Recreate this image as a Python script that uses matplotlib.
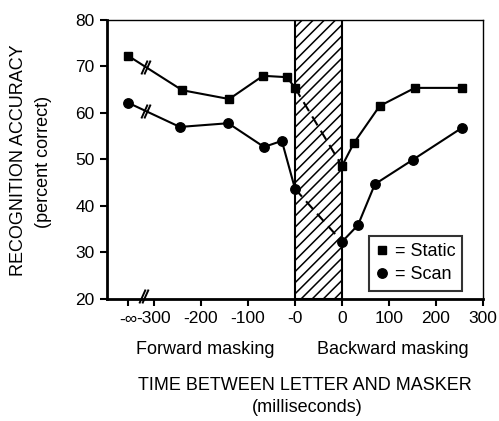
import matplotlib
matplotlib.use("Agg")
import matplotlib.pyplot as plt
from matplotlib.patches import Rectangle
from matplotlib.lines import Line2D

plt.rcParams['font.family'] = ['Liberation Sans', 'DejaVu Sans']
plt.rcParams['hatch.linewidth'] = 1.1

# Axis position standing in for "-infinity" on the forward-masking side
INF_POS = -355
# Backward-masking times are shifted right by the width of the letter interval
GAP = 100

# Forward masking (ms before letter onset), "-0" is the last point
static_fwd_t = [INF_POS, -240, -140, -68, -17, 0]
static_fwd_v = [72.3, 64.9, 63.0, 68.0, 67.7, 65.4]
scan_fwd_t = [INF_POS, -245, -142, -66, -28, 0]
scan_fwd_v = [62.2, 57.0, 57.8, 52.7, 54.0, 43.7]

# Backward masking (ms after letter offset)
static_bwd_t = [0, 25, 80, 155, 255]
static_bwd_v = [48.6, 53.5, 61.5, 65.4, 65.4]
scan_bwd_t = [0, 34, 70, 150, 255]
scan_bwd_v = [32.3, 35.9, 44.7, 49.9, 56.8]

xtick_pos = [INF_POS, -300, -200, -100, 0, 0 + GAP, 100 + GAP, 200 + GAP, 300 + GAP]
xtick_labels = ['-\u221e', '-300', '-200', '-100', '-0', '0', '100', '200', '300']
yticks = [20, 30, 40, 50, 60, 70, 80]

fig = plt.figure(figsize=(4.99, 4.21), dpi=100)
ax = fig.add_axes([0.2144, 0.2898, 0.968 - 0.2144, 0.9525 - 0.2898])
ax.set_xlim(-400, 400)
ax.set_ylim(20, 80)

# letter presentation interval
ax.add_patch(Rectangle((0, 20), GAP, 60, facecolor='white', edgecolor='black',
                       hatch='///', linewidth=1.5, zorder=1))

lw = 1.5
def draw(fwd_t, fwd_v, bwd_t, bwd_v, marker, ms):
    bx = [t + GAP for t in bwd_t]
    ax.plot(fwd_t, fwd_v, color='black', lw=lw, marker=marker, ms=ms, zorder=3)
    ax.plot(bx, bwd_v, color='black', lw=lw, marker=marker, ms=ms, zorder=3)
    ax.plot([fwd_t[-1], bx[0]], [fwd_v[-1], bwd_v[0]], color='black', lw=lw,
            dashes=(5, 3), zorder=2)

draw(static_fwd_t, static_fwd_v, static_bwd_t, static_bwd_v, 's', 6)
draw(scan_fwd_t, scan_fwd_v, scan_bwd_t, scan_bwd_v, 'o', 6.8)

# axis-break marks ("//") on each curve and on the time axis
slash = [(-0.45, -1.0), (0.45, 1.0)]
def break_mark(x, y):
    for dx in (-3.5, 3.5):
        ax.plot([x + dx], [y], marker=slash, ms=10, mew=1.4, color='black',
                clip_on=False, zorder=4)

def on_line(t, v, x):
    return v[0] + (v[1] - v[0]) * (x - t[0]) / (t[1] - t[0])

bx = -318
break_mark(bx, on_line(static_fwd_t, static_fwd_v, bx))
break_mark(bx, on_line(scan_fwd_t, scan_fwd_v, bx))
break_mark(-322, 20.6)

ax.set_xticks(xtick_pos)
ax.set_xticklabels(xtick_labels)
ax.set_yticks(yticks)
ax.tick_params(axis='both', direction='out', length=5, width=1.5, labelsize=12.5,
               pad=4, colors='black')
for side in ('left', 'bottom'):
    ax.spines[side].set_linewidth(2.0)
for side in ('top', 'right'):
    ax.spines[side].set_linewidth(1.0)

handles = [Line2D([], [], ls='none', marker='s', ms=6, color='black'),
           Line2D([], [], ls='none', marker='o', ms=6.8, color='black')]
leg = ax.legend(handles, ['= Static', '= Scan'], loc='lower right',
                bbox_to_anchor=(0.945, 0.03), fontsize=13, frameon=True,
                fancybox=False, edgecolor='black', handlelength=0.6,
                handletextpad=0.4, borderpad=0.4, labelspacing=0.35,
                borderaxespad=0.0)
leg.get_frame().set_linewidth(1.5)

fs = 13
fig.text(205 / 499, 1 - 349 / 421, 'Forward masking', ha='center', va='center', fontsize=fs)
fig.text(393 / 499, 1 - 349 / 421, 'Backward masking', ha='center', va='center', fontsize=fs)
fig.text(305 / 499, 1 - 385 / 421, 'TIME BETWEEN LETTER AND MASKER', ha='center', va='center', fontsize=fs)
fig.text(307 / 499, 1 - 408 / 421, '(milliseconds)', ha='center', va='center', fontsize=fs)
fig.text(19 / 499, 1 - 160 / 421, 'RECOGNITION ACCURACY', ha='center', va='center',
         rotation=90, fontsize=fs)
fig.text(43 / 499, 1 - 162 / 421, '(percent correct)', ha='center', va='center',
         rotation=90, fontsize=fs)

fig.savefig('out.png', dpi=100)
